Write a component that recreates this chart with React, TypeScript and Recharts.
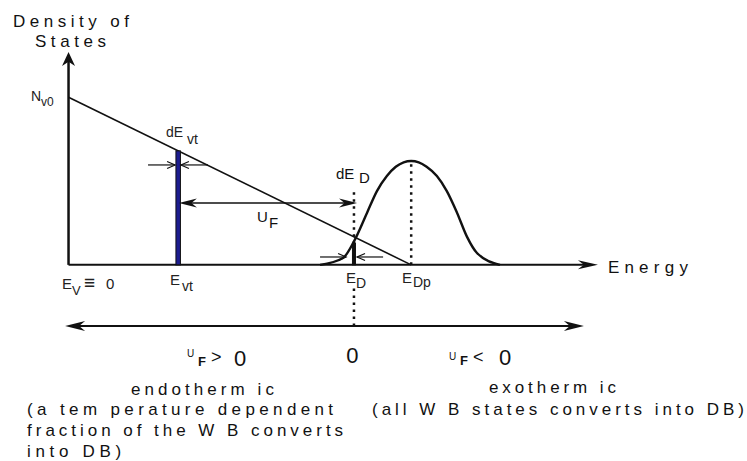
import { ComposedChart, Line, XAxis, YAxis, ReferenceLine, ReferenceDot } from "recharts";

// energies (arbitrary units, E_Dp = 10) and densities (N_v0 = 1)
const E_VT = 3.2;
const E_D = 8.33;
const E_DP = 10;
const N_V0 = 1;

// linear valence band tail
const tailEnergy = [0, E_DP];
const tailDensity = [N_V0, 0];

// DB distribution
const dbEnergy = [7.34, 8.01, 8.33, 8.71, 9.0, 9.29, 9.55, 9.78, 10.0, 10.22, 10.45, 10.75, 11.04, 11.34, 11.63, 11.92, 12.59];
const dbDensity = [0, 0.041, 0.14, 0.31, 0.44, 0.53, 0.585, 0.612, 0.62, 0.612, 0.585, 0.53, 0.44, 0.31, 0.167, 0.071, 0];

const tailAtVt = N_V0 * (1 - E_VT / E_DP);
const barD = 0.13;
const dbPeak = 0.62;

const tailData = tailEnergy.map((E, i) => ({ E, N: tailDensity[i] }));
const dbData = dbEnergy.map((E, i) => ({ E, N: dbDensity[i] }));

const FONT = "'Liberation Sans Narrow', 'Liberation Sans', Arial, sans-serif";
const INK = "#111";

type ArrowOpts = {
  start?: boolean;
  end?: boolean;
  head?: "filled" | "open";
  len?: number;
  half?: number;
  width?: number;
};

function headPath(tx: number, ty: number, ux: number, uy: number, o: ArrowOpts) {
  const len = o.len ?? 12;
  const half = o.half ?? 4;
  const nx = -uy;
  const ny = ux;
  const bx = tx - ux * len;
  const by = ty - uy * len;
  if (o.head === "open") {
    return (
      <polyline
        points={`${bx + nx * half},${by + ny * half} ${tx},${ty} ${bx - nx * half},${by - ny * half}`}
        fill="none"
        stroke={INK}
        strokeWidth={o.width ?? 1.2}
      />
    );
  }
  const mx = tx - ux * len * 0.7;
  const my = ty - uy * len * 0.7;
  return (
    <polygon
      points={`${tx},${ty} ${bx + nx * half},${by + ny * half} ${mx},${my} ${bx - nx * half},${by - ny * half}`}
      fill={INK}
    />
  );
}

function arrowShape(o: ArrowOpts) {
  return (p: any) => {
    const { x1, y1, x2, y2 } = p;
    const d = Math.hypot(x2 - x1, y2 - y1) || 1;
    const ux = (x2 - x1) / d;
    const uy = (y2 - y1) / d;
    const cut = o.head === "open" ? 0 : (o.len ?? 12) * 0.5;
    const sx = o.start ? x1 + ux * cut : x1;
    const sy = o.start ? y1 + uy * cut : y1;
    const ex = o.end ? x2 - ux * cut : x2;
    const ey = o.end ? y2 - uy * cut : y2;
    return (
      <g>
        <line x1={sx} y1={sy} x2={ex} y2={ey} stroke={INK} strokeWidth={o.width ?? 1.5} />
        {o.end && headPath(x2, y2, ux, uy, o)}
        {o.start && headPath(x1, y1, -ux, -uy, o)}
      </g>
    );
  };
}

function barShape(width: number, fill: string) {
  return (p: any) => {
    const { x1, y1, y2 } = p;
    const top = Math.min(y1, y2);
    return (
      <rect x={x1 - width / 2} y={top} width={width} height={Math.abs(y2 - y1)} fill={fill} stroke={INK} strokeWidth={1} />
    );
  };
}

type Piece = { t: string; dx?: number; dy?: number; size?: number; bold?: boolean };
type TextOpts = { size?: number; length?: number; anchor?: string; color?: string };

function textShape(pieces: Piece[], opts: TextOpts = {}) {
  return (p: any) => {
    const common = {
      x: p.cx,
      y: p.cy,
      fontFamily: FONT,
      fontSize: opts.size ?? 14,
      fill: opts.color ?? INK,
      textAnchor: opts.anchor ?? "start",
    };
    if (opts.length) {
      return (
        <text {...common} textLength={opts.length} lengthAdjust="spacing">
          {pieces[0].t}
        </text>
      );
    }
    return (
      <text {...common}>
        {pieces.map((pc, i) => (
          <tspan
            key={i}
            x={p.cx + (pc.dx ?? 0)}
            y={p.cy + (pc.dy ?? 0)}
            fontSize={pc.size}
            fontWeight={pc.bold ? "bold" : undefined}
          >
            {pc.t}
          </tspan>
        ))}
      </text>
    );
  };
}

type Label = { E: number; N: number; pieces: Piece[] } & TextOpts;

const labels: Label[] = [
  { E: -1.62, N: 1.419, pieces: [{ t: "Density of" }], size: 17, length: 116 },
  { E: -0.98, N: 1.3, pieces: [{ t: "States" }], size: 17, length: 71 },
  { E: -1.094, N: 0.978, pieces: [{ t: "N", size: 14 }, { t: "v0", dx: 10, dy: 5, size: 12 }], color: "#222" },
  { E: 2.845, N: 0.763, pieces: [{ t: "dE", size: 14 }, { t: "vt", dx: 21, dy: 7, size: 14 }], color: "#222" },
  { E: 7.806, N: 0.513, pieces: [{ t: "dE", size: 15 }, { t: "D", dx: 23, dy: 4, size: 15 }] },
  { E: 5.5, N: 0.256, pieces: [{ t: "U", size: 15 }, { t: "F", dx: 12, dy: 6, size: 15 }] },
  {
    E: -0.19,
    N: -0.144,
    pieces: [
      { t: "E", size: 15 },
      { t: "V", dx: 10, dy: 6, size: 13 },
      { t: "\u2261", dx: 22, dy: 0, size: 19, bold: true },
      { t: "0", dx: 44, dy: 0, size: 15 },
    ],
    color: "#222",
  },
  { E: 2.96, N: -0.12, pieces: [{ t: "E", size: 15 }, { t: "vt", dx: 12, dy: 6, size: 14 }], color: "#222" },
  { E: 8.1, N: -0.108, pieces: [{ t: "E", size: 15 }, { t: "D", dx: 10, dy: 5, size: 14 }], color: "#222" },
  { E: 9.73, N: -0.108, pieces: [{ t: "E", size: 15 }, { t: "Dp", dx: 11, dy: 4, size: 14 }], color: "#222" },
  { E: 15.74, N: -0.048, pieces: [{ t: "Energy" }], size: 17, length: 80 },
  {
    E: 3.46,
    N: -0.549,
    pieces: [
      { t: "U", size: 10 },
      { t: "F", dx: 11, dy: 9, size: 13, bold: true },
      { t: ">", dx: 24, dy: 6, size: 18 },
      { t: "0", dx: 47, dy: 9, size: 22 },
    ],
  },
  { E: 8.287, N: -0.585, pieces: [{ t: "0" }], size: 22, anchor: "middle" },
  {
    E: 11.1,
    N: -0.567,
    pieces: [
      { t: "U", size: 10 },
      { t: "F", dx: 11, dy: 5, size: 13, bold: true },
      { t: "<", dx: 24, dy: 3, size: 18 },
      { t: "0", dx: 50, dy: 5, size: 22 },
    ],
  },
  { E: 1.82, N: -0.776, pieces: [{ t: "endotherm ic" }], size: 17, length: 143 },
  { E: -1.21, N: -0.896, pieces: [{ t: "(a tem perature dependent" }], size: 17, length: 306 },
  { E: -1.21, N: -1.021, pieces: [{ t: "fraction of the W B converts" }], size: 17, length: 316 },
  { E: -1.21, N: -1.146, pieces: [{ t: "into DB)" }], size: 17, length: 94 },
  { E: 12.27, N: -0.764, pieces: [{ t: "exotherm ic" }], size: 17, length: 127 },
  { E: 8.856, N: -0.896, pieces: [{ t: "(all W B states converts into DB)" }], size: 17, length: 372 },
];

export default function App() {
  return (
    <div style={{ position: "fixed", left: 0, top: 0, background: "#fff" }}>
      <ComposedChart width={747} height={461} margin={{ top: 0, right: 0, bottom: 0, left: 0 }}>
        <XAxis type="number" dataKey="E" domain={[-2, 19.8]} hide allowDataOverflow />
        <YAxis type="number" dataKey="N" domain={[-1.17, 1.58]} hide allowDataOverflow />

        {/* axes */}
        <ReferenceLine segment={[{ x: 0, y: 0 }, { x: 0, y: 1.27 }]} shape={arrowShape({ end: true, len: 14, half: 6.5, width: 2.5 })} />
        <ReferenceLine segment={[{ x: 0, y: 0 }, { x: 15.45, y: 0 }]} shape={arrowShape({ end: true, len: 20, half: 4.5, width: 2 })} />

        {/* dotted guides */}
        <ReferenceLine segment={[{ x: E_DP, y: 0 }, { x: E_DP, y: dbPeak }]} stroke={INK} strokeWidth={2.5} strokeDasharray="2.5 4.5" />
        <ReferenceLine segment={[{ x: E_D, y: 0 }, { x: E_D, y: 0.458 }]} stroke={INK} strokeWidth={2.5} strokeDasharray="2.5 4.5" />
        <ReferenceLine segment={[{ x: E_D, y: -0.365 }, { x: E_D, y: -0.14 }]} stroke={INK} strokeWidth={2.5} strokeDasharray="2.5 4.5" />

        <Line data={tailData} dataKey="N" type="linear" stroke={INK} strokeWidth={1.6} dot={false} activeDot={false} isAnimationActive={false} />
        <Line data={dbData} dataKey="N" type="monotone" stroke={INK} strokeWidth={2.4} dot={false} activeDot={false} isAnimationActive={false} />

        {/* dE slices */}
        <ReferenceLine segment={[{ x: E_VT, y: 0 }, { x: E_VT, y: tailAtVt }]} shape={barShape(4.5, "#1c1c8f")} />
        <ReferenceLine segment={[{ x: E_D, y: 0 }, { x: E_D, y: barD }]} shape={barShape(3, INK)} />

        {/* arrows */}
        <ReferenceLine segment={[{ x: 3.22, y: 0.369 }, { x: 8.42, y: 0.369 }]} shape={arrowShape({ start: true, end: true, len: 18, half: 4.5, width: 1.6 })} />
        <ReferenceLine segment={[{ x: 2.32, y: 0.596 }, { x: 3.11, y: 0.596 }]} shape={arrowShape({ end: true, head: "open", len: 8, half: 3.5, width: 1.2 })} />
        <ReferenceLine segment={[{ x: 4.07, y: 0.596 }, { x: 3.28, y: 0.596 }]} shape={arrowShape({ end: true, head: "open", len: 8, half: 3.5, width: 1.2 })} />
        <ReferenceLine segment={[{ x: 7.34, y: 0.047 }, { x: 8.1, y: 0.047 }]} shape={arrowShape({ end: true, head: "open", len: 8, half: 3.5, width: 1.2 })} />
        <ReferenceLine segment={[{ x: 9.18, y: 0.047 }, { x: 8.42, y: 0.047 }]} shape={arrowShape({ end: true, head: "open", len: 8, half: 3.5, width: 1.2 })} />
        <ReferenceLine segment={[{ x: -0.1, y: -0.365 }, { x: 15.04, y: -0.365 }]} shape={arrowShape({ start: true, end: true, len: 20, half: 5, width: 2 })} />

        {labels.map((l, i) => (
          <ReferenceDot
            key={i}
            x={l.E}
            y={l.N}
            r={0}
            ifOverflow="visible"
            shape={textShape(l.pieces, { size: l.size, length: l.length, anchor: l.anchor, color: l.color })}
          />
        ))}
      </ComposedChart>
    </div>
  );
}
